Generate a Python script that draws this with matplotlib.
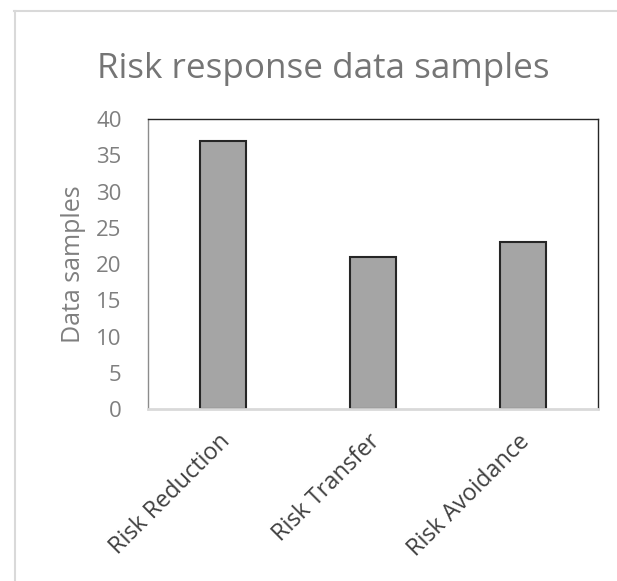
import matplotlib.pyplot as plt
from matplotlib.lines import Line2D
from matplotlib.transforms import ScaledTranslation

categories = ["Risk Reduction", "Risk Transfer", "Risk Avoidance"]
samples = [37, 21, 23]
y_ticks = [0, 5, 10, 15, 20, 25, 30, 35, 40]

plt.rcParams['font.family'] = ['Open Sans', 'DejaVu Sans']

fig = plt.figure(figsize=(6.17, 5.81), dpi=100)
ax = fig.add_axes([0.240, 0.296, 0.729, 0.499])

x = range(len(categories))
ax.bar(x, samples, width=0.31, color="#A5A5A5", edgecolor="#262626", linewidth=1.5)

ax.set_xlim(-0.5, len(categories) - 0.5)
ax.set_ylim(0, 40)
ax.set_yticks(y_ticks)
ax.set_xticks(list(x))
ax.set_xticklabels(categories, rotation=45, ha="right", rotation_mode="anchor",
                   fontsize=16.8, color="#404040")
ax.tick_params(axis="x", length=0, pad=15)
ax.tick_params(axis="y", length=0, pad=19, labelsize=16, labelcolor="#7F7F7F")
shift = ScaledTranslation(-5 / 100, 0, fig.dpi_scale_trans)
for lbl in ax.get_xticklabels():
    lbl.set_transform(lbl.get_transform() + shift)

ax.set_ylabel("Data samples", fontsize=18, color="#7F7F7F", labelpad=7)
fig.text(323 / 617, 1 - 69 / 581, "Risk response data samples", fontsize=25.2,
         color="#757575", ha="center", va="center")

ax.spines["top"].set_color("#262626")
ax.spines["right"].set_color("#262626")
ax.spines["left"].set_color("#8C8C8C")
ax.spines["bottom"].set_color("#D9D9D9")
for s in ax.spines.values():
    s.set_linewidth(1)
ax.spines["bottom"].set_linewidth(2)

# light outer frame of the chart area
fig.add_artist(Line2D([14 / 617, 1], [1 - 10.5 / 581, 1 - 10.5 / 581],
                      color="#D9D9D9", linewidth=1.5, transform=fig.transFigure))
fig.add_artist(Line2D([14.5 / 617, 14.5 / 617], [0, 1 - 10.5 / 581],
                      color="#D9D9D9", linewidth=1.5, transform=fig.transFigure))

plt.savefig("out.png", dpi=100)
